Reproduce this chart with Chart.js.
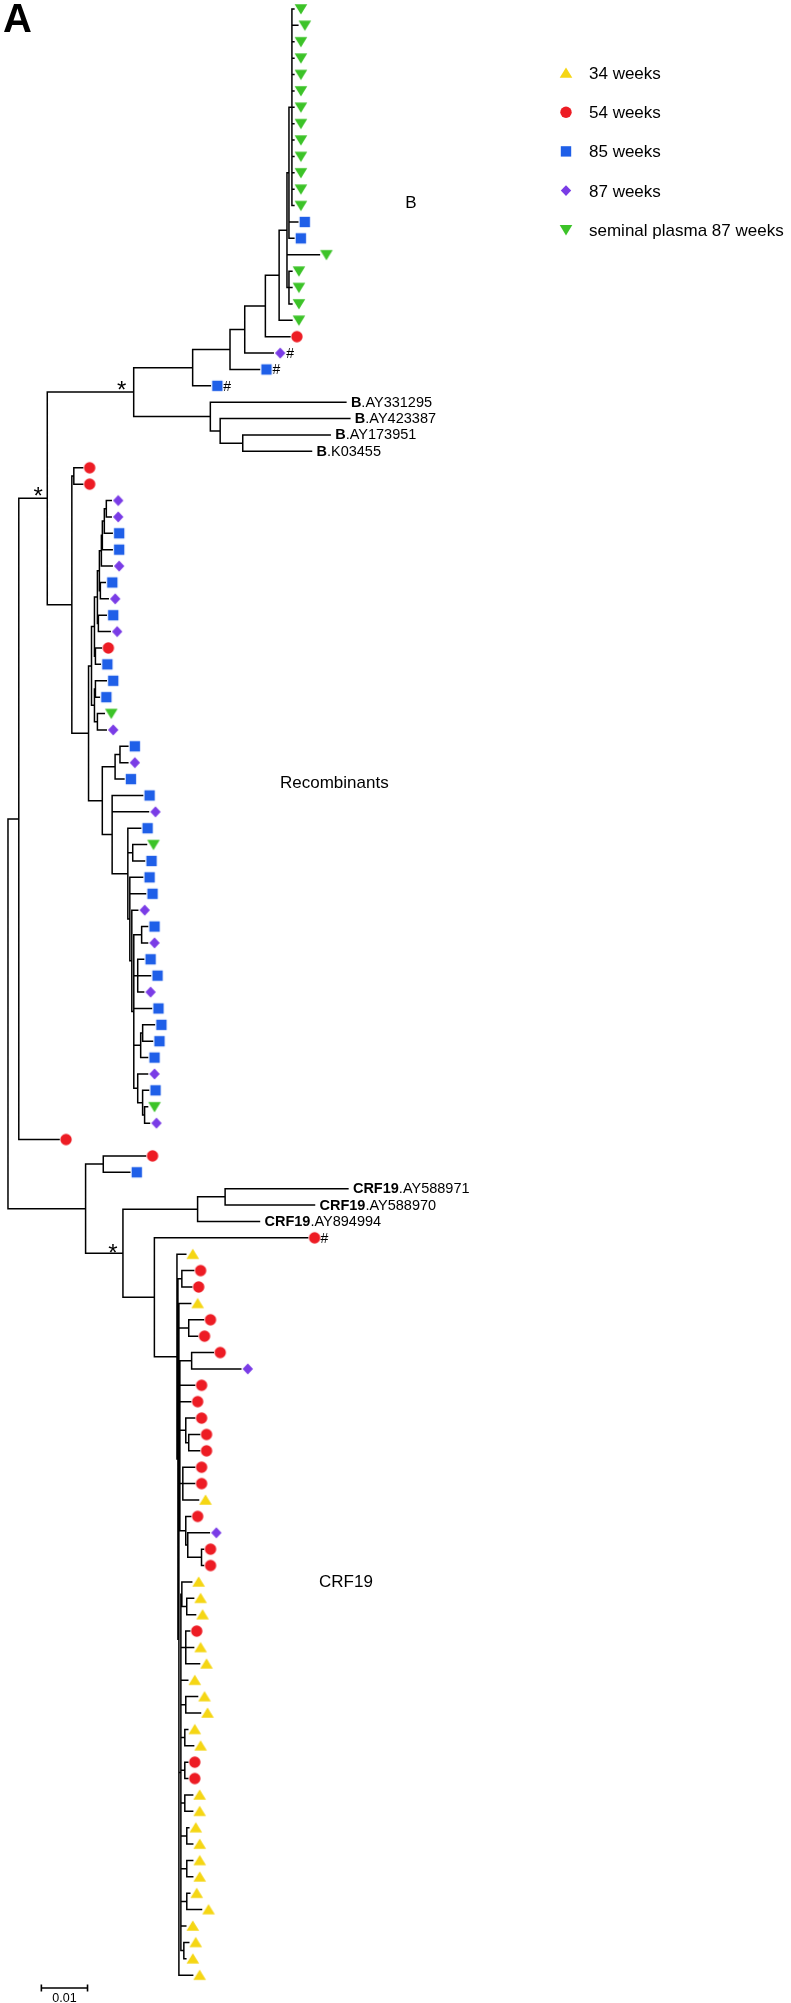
<!DOCTYPE html>
<html><head><meta charset="utf-8">
<script src="https://cdn.jsdelivr.net/npm/chart.js@4.4.1/dist/chart.umd.min.js"></script>
<style>html,body{margin:0;padding:0;background:#fff;}#wrap{position:relative;width:791px;height:2003px;}canvas{display:block;}</style>
</head><body><div id="wrap"><canvas id="c" width="791" height="2003"></canvas></div>
<script>
// ================= DATA =================
const groupKeys = ['Y','R','B','P','G'];
const groupNames = ['34 weeks','54 weeks','85 weeks','87 weeks','seminal plasma 87 weeks'];
const groupColors = ['#F5D614','#ED1C24','#1F5FE8','#7A3CE6','#3CC328'];

// internal nodes: name, parent, branch length (substitutions/site)
const nodeNames = ['root','A','B','C','E','I','J','K','L','M','N','Nb','O','F','Fb','H','D','Q','S','Ta','Tb','Tc','Td','Te','Tf','Tg','Q2','Th','Ti','Tj','Tk','Tl','Tm','U','V','V1','W','X','X2','X3','X4','X5','X6','X7','X8','X8a','X9','X10','X11','NC','Yn','Z','CR','CR2','AA','AB','AC','AE','AF','AG','c2','c4','c5','c8','c8b','c9','c10','c10b','c10c','c11','c11b','c12','c14','c15','c16','c17','c18','c19','c20','c22'];
const nodeParents = ['','root','A','B','C','E','I','J','K','L','M','N','M','C','F','Fb','B','D','D','S','Ta','Tb','Tc','Td','Te','Tf','Tg','Td','Tc','Tb','Ta','Tk','Tk','S','U','V','U','W','X','X','X3','X4','X5','X5','X5','X8','X5','X9','X10','root','NC','NC','Z','CR','Z','AA','AB','AC','AE','AE','AC','AE','AF','AF','c8','AF','AF','c10','c10b','AG','c11','AG','AG','AG','AG','AG','AG','AG','AG','AG'];
const nodeLengths = [0,0.00234,0.00617,0.01872,0.01277,0.00809,0.00319,0.00447,0.00298,0.0017,0.00043,0.00064,0.00043,0.0166,0.00213,0.00489,0.00532,0.00043,0.00362,0.00064,0.00064,0.00064,0.00043,0.00043,0.00021,0.00043,0.00043,0.00021,0.00021,0.00021,0.00064,0.00021,0.00064,0.00298,0.00277,0.00106,0.00213,0.0034,0.00106,0.00043,0.00043,0.00043,0.0017,0.00085,0.00149,0.00043,0.00085,0.00106,0.00043,0.01681,0.00383,0.00809,0.01617,0.00596,0.00681,0.00489,0.00021,0.00021,0.00021,0.00043,0.00085,0.00213,0.00255,0.00128,0.00064,0.00064,0.00128,0.00043,0.00298,0.00021,0.00106,0.00106,0.00106,0.00085,0.00085,0.00085,0.00128,0.00128,0.00128,0.00064];

// leaves, top to bottom
const leafGroups = [
 'G','G','G','G','G','G','G','G','G','G','G','G','G',
 'B','B','G','G','G','G','G','R','P','B','B',
 '','','','',
 'R','R','P','P','B','B','P','B','P','B','P','R','B','B','B','G','P',
 'B','P','B','B','P','B','G','B','B','B','P','B','P','B','B','P','B','B','B','B','P','B','G','P',
 'R','R','B','','','','R',
 'Y','R','R','Y','R','R','R','P','R','R','R','R','R','R','R','Y','R','P','R','R',
 'Y','Y','Y','R','Y','Y','Y','Y','Y','Y','Y','R','R',
 'Y','Y','Y','Y','Y','Y','Y','Y','Y','Y','Y','Y'];
const leafParents = [
 'Nb','Nb','Nb','Nb','Nb','Nb','Nb','Nb','Nb','Nb','Nb','Nb','Nb',
 'N','N','M','O','O','O','L','K','J','I','E',
 'F','Fb','H','H',
 'Q','Q','Q2','Q2','Tg','Tf','Te','Th','Th','Ti','Ti','Tj','Tj','Tl','Tl','Tm','Tm',
 'V1','V1','V','W','W','X','X2','X2','X3','X3','X4','X6','X6','X7','X7','X7','X5','X8a','X8a','X8','X9','X10','X11','X11',
 'A','Yn','Yn','CR2','CR2','CR','AA',
 'AB','c2','c2','AE','c4','c4','c5','c5','AF','AF','c8','c8b','c8b','c9','c9','c9','c10','c10b','c10c','c10c',
 'c11','c11b','c11b','c12','c12','c12','AG','c14','c14','c15','c15','c16','c16',
 'c17','c17','c18','c18','c19','c19','c20','c20','AG','c22','c22','AE'];
const leafLengths = [
 0.00043,0.00128,0.00043,0.00043,0.00043,0.00043,0.00043,0.00043,0.00043,0.00043,0.00043,0.00043,0.00043,
 0.00191,0.00106,0.00702,0.00064,0.00064,0.00064,0.00277,0.00532,0.00617,0.00638,0.00383,
 0.02936,0.02809,0.01894,0.01489,
 0.00191,0.00191,0.00106,0.00106,0.0017,0.00213,0.00234,0.00106,0.0017,0.0017,0.00255,0.00128,0.00106,0.00234,0.00085,0.00149,0.00191,
 0.0017,0.0017,0.00191,0.0066,0.00787,0.00277,0.00298,0.00255,0.00277,0.0034,0.00128,0.00128,0.00128,0.00128,0.00277,0.00128,0.00383,0.00255,0.00213,0.00149,0.00213,0.00128,0.00064,0.00106,
 0.00872,0.00915,0.00574,0.0266,0.01936,0.0134,0.03319,
 0.00191,0.00255,0.00213,0.00255,0.00319,0.00191,0.00468,0.01064,0.00319,0.00234,0.00191,0.00234,0.00234,0.00255,0.00255,0.0034,0.00106,0.00468,0.00043,0.00043,
 0.00213,0.00149,0.00191,0.00085,0.0017,0.00298,0.00149,0.00255,0.00319,0.00064,0.00191,0.00064,0.00064,
 0.0017,0.0017,0.00043,0.00128,0.00128,0.00128,0.00064,0.00319,0.00106,0.00106,0.00043,0.00298];

// reference sequences (leaf number, 1-based)
const refLeaves = [25,26,27,28,73,74,75];
const refSubtypes = ['B','B','B','B','CRF19','CRF19','CRF19'];
const refAccessions = ['.AY331295','.AY423387','.AY173951','.K03455','.AY588971','.AY588970','.AY894994'];
const hashLeaves = [22,23,24,76];
const supportNodes = ['B','C','Z'];
const cladeNames = ['B','Recombinants','CRF19'];
const panelLetter = 'A';
const scaleBarValue = 0.01;
const scaleBarLabel = '0.01';

// ================= LAYOUT / STYLE =================
const FONT = '"Liberation Sans", Arial, Helvetica, sans-serif';
const PX_PER_UNIT = 4700, ROOT_PX = 1, LEAF_STEP = 16.5, FIRST_LEAF_PX = 2, W = 791, H = 2003;
const X_MIN = -ROOT_PX / PX_PER_UNIT, X_MAX = X_MIN + W / PX_PER_UNIT;
const Y_MIN = -FIRST_LEAF_PX / LEAF_STEP, Y_MAX = Y_MIN + H / LEAF_STEP;
const supportOffsets = [[-9, -8], [-12, -8], [-10, -6]];
const cladePos = [[411, 208, 'center'], [280, 788, 'left'], [319, 1587, 'left']];
const legendPos = {x: 566, textX: 589, y0: 73, step: 39.2};
const scaleBarPos = {start: 0.00723, y: 1988};

function drawShape(ctx, g, cx, cy) {
  ctx.fillStyle = groupColors[groupKeys.indexOf(g)];
  ctx.beginPath();
  if (g === 'Y') { ctx.moveTo(cx, cy - 5.6); ctx.lineTo(cx + 6.3, cy + 4.8); ctx.lineTo(cx - 6.3, cy + 4.8); }
  else if (g === 'G') { ctx.moveTo(cx - 6.3, cy - 4.8); ctx.lineTo(cx + 6.3, cy - 4.8); ctx.lineTo(cx, cy + 5.6); }
  else if (g === 'R') { ctx.arc(cx, cy, 5.7, 0, Math.PI * 2); }
  else if (g === 'B') { ctx.rect(cx - 5.2, cy - 5.2, 10.4, 10.4); }
  else if (g === 'P') { ctx.moveTo(cx, cy - 5.4); ctx.lineTo(cx + 5.2, cy); ctx.lineTo(cx, cy + 5.4); ctx.lineTo(cx - 5.2, cy); }
  ctx.closePath(); ctx.fill();
}
function makeStyle(g) {
  const c = document.createElement('canvas'); c.width = 32; c.height = 16;
  drawShape(c.getContext('2d'), g, 16 + 7, 8); return c;
}

// ================= TREE LAYOUT =================
const nodeIndex = {}; nodeNames.forEach((n, i) => nodeIndex[n] = i);
const nodeDepth = [];
function depthOf(i) {
  if (nodeDepth[i] !== undefined) return nodeDepth[i];
  const p = nodeParents[i];
  nodeDepth[i] = p ? depthOf(nodeIndex[p]) + nodeLengths[i] : 0;
  return nodeDepth[i];
}
nodeNames.forEach((n, i) => depthOf(i));
const leafDepth = leafParents.map((p, i) => nodeDepth[nodeIndex[p]] + leafLengths[i]);
const kids = nodeNames.map(() => []);
leafParents.forEach((p, i) => kids[nodeIndex[p]].push({leaf: true, i}));
nodeParents.forEach((p, i) => { if (p) kids[nodeIndex[p]].push({leaf: false, i}); });
const nodeY = [], nodeSpan = [];
function yOfNode(i) {
  if (nodeY[i] !== undefined) return nodeY[i];
  const ys = kids[i].map(c => c.leaf ? c.i : yOfNode(c.i));
  const lo = Math.min(...ys), hi = Math.max(...ys);
  nodeSpan[i] = [lo, hi]; nodeY[i] = (lo + hi) / 2; return nodeY[i];
}
nodeNames.forEach((n, i) => yOfNode(i));

const segs = [];
const gap = {x: null, y: null};
leafParents.forEach((p, i) => { segs.push({x: nodeDepth[nodeIndex[p]], y: i}, {x: leafDepth[i], y: i}, gap); });
nodeNames.forEach((n, i) => {
  const p = nodeParents[i];
  if (p) segs.push({x: nodeDepth[nodeIndex[p]], y: nodeY[i]}, {x: nodeDepth[i], y: nodeY[i]}, gap);
  segs.push({x: nodeDepth[i], y: nodeSpan[i][0]}, {x: nodeDepth[i], y: nodeSpan[i][1]}, gap);
});

const datasets = [{
  type: 'scatter', label: 'branches', data: segs, showLine: true, spanGaps: false,
  borderColor: '#000', borderWidth: 1.5, borderCapStyle: 'square', pointRadius: 0, clip: false, order: 1
}];
groupKeys.forEach((g, k) => {
  const pts = [];
  leafGroups.forEach((lg, i) => { if (lg === g) pts.push({x: leafDepth[i], y: i}); });
  datasets.push({type: 'scatter', label: groupNames[k], data: pts, pointStyle: makeStyle(g),
    pointRadius: 6, showLine: false, clip: false, order: 0});
});

const annotate = {
  id: 'annotate',
  afterDatasetsDraw(chart) {
    const ctx = chart.ctx, xs = chart.scales.x, ys = chart.scales.y;
    ctx.save();
    ctx.fillStyle = '#000'; ctx.textBaseline = 'alphabetic'; ctx.textAlign = 'left';
    refLeaves.forEach((n, k) => {
      const i = n - 1;
      let px = xs.getPixelForValue(leafDepth[i]) + 5;
      const py = ys.getPixelForValue(i) + 4.5;
      ctx.font = 'bold 14.5px ' + FONT;
      ctx.fillText(refSubtypes[k], px, py);
      px += ctx.measureText(refSubtypes[k]).width;
      ctx.font = '14.5px ' + FONT;
      ctx.fillText(refAccessions[k], px, py);
    });
    ctx.font = '14px ' + FONT;
    hashLeaves.forEach(n => {
      const i = n - 1;
      ctx.fillText('#', xs.getPixelForValue(leafDepth[i]) + 13, ys.getPixelForValue(i) + 5);
    });
    ctx.font = '24px ' + FONT; ctx.textAlign = 'center';
    supportNodes.forEach((n, k) => {
      const i = nodeIndex[n];
      const cx = xs.getPixelForValue(nodeDepth[i]) + supportOffsets[k][0];
      const cy = ys.getPixelForValue(nodeY[i]) + supportOffsets[k][1];
      ctx.fillText('*', cx, cy + 13.8);
    });
    ctx.font = '17px ' + FONT;
    cladeNames.forEach((t, k) => { ctx.textAlign = cladePos[k][2]; ctx.fillText(t, cladePos[k][0], cladePos[k][1]); });
    ctx.textAlign = 'left'; ctx.font = 'bold 40px ' + FONT;
    ctx.fillText(panelLetter, 3, 32);
    ctx.font = '17px ' + FONT;
    groupKeys.forEach((g, k) => {
      const y = legendPos.y0 + k * legendPos.step;
      drawShape(ctx, g, legendPos.x, y);
      ctx.fillStyle = '#000';
      ctx.fillText(groupNames[k], legendPos.textX, y + 6);
    });
    const x0 = xs.getPixelForValue(scaleBarPos.start), x1 = xs.getPixelForValue(scaleBarPos.start + scaleBarValue);
    const y = scaleBarPos.y;
    ctx.strokeStyle = '#000'; ctx.lineWidth = 1.6;
    ctx.beginPath();
    ctx.moveTo(x0, y); ctx.lineTo(x1, y);
    ctx.moveTo(x0, y - 3.5); ctx.lineTo(x0, y + 3.5);
    ctx.moveTo(x1, y - 3.5); ctx.lineTo(x1, y + 3.5);
    ctx.stroke();
    ctx.font = '12.5px ' + FONT; ctx.textAlign = 'center';
    ctx.fillText(scaleBarLabel, (x0 + x1) / 2, 2002);
    ctx.restore();
  }
};

new Chart(document.getElementById('c'), {
  type: 'scatter',
  data: {datasets},
  options: {
    responsive: false, animation: false, events: [],
    layout: {padding: 0},
    elements: {line: {tension: 0}},
    plugins: {legend: {display: false}, tooltip: {enabled: false}},
    scales: {
      x: {type: 'linear', display: false, min: X_MIN, max: X_MAX},
      y: {type: 'linear', display: false, reverse: true, min: Y_MIN, max: Y_MAX}
    }
  },
  plugins: [annotate]
});
</script>
</body></html>
